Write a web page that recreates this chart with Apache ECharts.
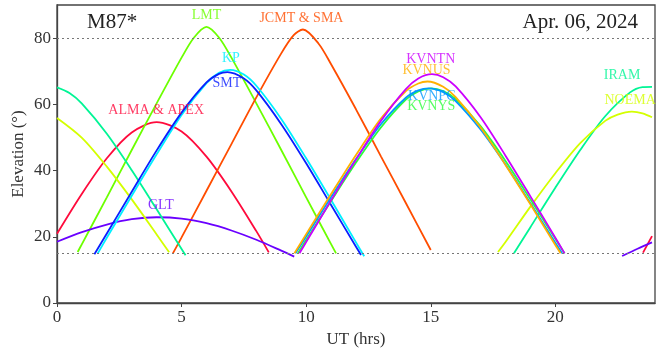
<!DOCTYPE html>
<html><head><meta charset="utf-8">
<script src="https://cdn.jsdelivr.net/npm/echarts@6/dist/echarts.min.js"></script>
<style>html,body{margin:0;padding:0;background:#fff}#c{width:668px;height:349px}</style>
</head><body><div id="c"></div>
<script>
// ---- data (UT hours, elevation degrees) ----
const xTicks = [0, 5, 10, 15, 20];
const yTicks = [0, 20, 40, 60, 80];
const refLines = [15, 80];
const almaA = [[0,20.9],[1,33.0],[2,43.7],[3,51.5],[4,54.6],[5,51.8],[6,44.2],[7,33.7],[8,21.7],[8.5,15.3]];
const almaB = [[23.52,15.2],[23.88,20.2]];
const lmt = [[0.83,15.4],[1,17.8],[2,31.9],[3,46.2],[4,60.3],[5,74.1],[5.5,80.2],[6,83.4],[6.5,80.2],[7,74.1],[8,60.3],[9,46.2],[10,31.9],[11,17.8],[11.2,15.0]];
const jcmt = [[4.65,15.0],[5,19.8],[6,33.9],[7,48.0],[8,62.1],[9,75.4],[9.5,80.9],[9.87,82.6],[10.5,78.3],[11,72.1],[12,58.5],[13,44.3],[14,30.2],[15,16.0]];
const kp = [[1.63,14.9],[2,19.7],[3,32.4],[4,44.9],[5,56.8],[6,66.4],[6.5,69.5],[6.95,70.4],[7.5,69.0],[8,65.6],[9,55.6],[10,43.7],[11,31.1],[12,18.3],[12.33,14.1]];
const smt = [[1.5,14.7],[2,21.0],[3,33.6],[4,46.1],[5,57.5],[6,66.6],[6.5,69.2],[6.84,69.7],[7.5,67.8],[8,64.2],[9,54.0],[10,42.2],[11,29.6],[12,17.0],[12.2,14.5]];
const gltA = [[0,18.5],[1,21.4],[2,23.7],[3,25.3],[4,25.9],[5,25.5],[6,24.1],[7,21.9],[8,19.1],[9,15.8],[9.52,14.0]];
const gltB = [[22.68,14.2],[23.3,16.4],[23.88,18.3]];
const iramA = [[0,65.1],[0.5,63.4],[1,60.2],[2,51.1],[3,40.1],[4,28.3],[5,16.3],[5.16,14.4]];
const iramB = [[18.34,15.0],[19,22.9],[20,34.8],[21,46.2],[22,56.4],[23,63.6],[23.5,65.2],[23.88,65.3]];
const noemaA = [[0,55.9],[1,49.9],[2,41.2],[3,31.3],[4,20.7],[4.5,15.3]];
const noemaB = [[17.7,15.4],[18,18.4],[19,29.1],[20,39.2],[21,48.3],[22,55.0],[22.5,56.9],[23.07,57.8],[23.5,57.3],[23.88,56.1]];
const kvntn = [[9.73,15],[10,18.4],[11,31.0],[12,43.3],[13,55.0],[14,64.6],[14.5,67.8],[15.05,69.1],[15.5,68.2],[16,65.4],[17,56.1],[18,44.5],[19,32.2],[20,19.7],[20.37,15]];
const kvnus = [[9.53,15],[10,20.8],[11,32.9],[12,44.7],[13,55.7],[14,64.0],[14.5,66.3],[14.87,66.9],[15.5,65.3],[16,62.2],[17,53.0],[18,41.7],[19,29.8],[20,17.5],[20.21,15]];
const kvnpc = [[9.57,15],[10,20.1],[11,32.0],[12,43.5],[13,54.0],[14,62.0],[14.5,64.2],[14.92,64.8],[15.5,63.7],[16,61.0],[17,52.4],[18,41.8],[19,30.1],[20,18.2],[20.27,15]];
const kvnys = [[9.67,15],[10,19.0],[11,30.8],[12,42.4],[13,53.0],[14,61.4],[14.5,63.9],[15.02,64.8],[15.5,64.0],[16,61.6],[17,53.4],[18,42.9],[19,31.3],[20,19.4],[20.37,15]];
// label anchor positions in data coordinates
const labels = [
  ['ALMA & APEX', [3.98,58.1]], ['LMT',[6.0,87.0]], ['JCMT & SMA',[9.81,86.0]],
  ['KP',[6.98,73.8]], ['SMT',[6.82,66.4]], ['GLT',[4.17,29.6]],
  ['IRAM',[22.68,68.8]], ['NOEMA',[23.0,61.3]],
  ['KVNTN',[15.0,73.6]], ['KVNUS',[14.83,70.4]], ['KVNPC',[15.04,62.3]], ['KVNYS',[15.02,59.3]]
];
const colors = {
  'ALMA & APEX':'#ff0a3c','LMT':'#6cff00','JCMT & SMA':'#ff4d00','KP':'#00f0ff','SMT':'#0a1eff',
  'GLT':'#6a00ff','IRAM':'#00f595','NOEMA':'#d4ff00','KVNTN':'#cc00ff','KVNUS':'#ffb000',
  'KVNPC':'#0099ff','KVNYS':'#2aff3a'
};
const tracks = [
  ['ALMA & APEX', almaA], ['ALMA & APEX', almaB], ['LMT', lmt], ['JCMT & SMA', jcmt],
  ['GLT', gltA], ['GLT', gltB], ['IRAM', iramA], ['IRAM', iramB], ['NOEMA', noemaA], ['NOEMA', noemaB],
  ['KP', kp], ['SMT', smt], ['KVNYS', kvnys], ['KVNPC', kvnpc], ['KVNUS', kvnus], ['KVNTN', kvntn]
];
const FONT = '"Liberation Serif", "DejaVu Serif", serif';

const series = tracks.map(([name, data]) => ({
  type: 'line', name, data, showSymbol: false, smooth: 0.3,
  lineStyle: { color: colors[name], width: 1.8 }, itemStyle: { color: colors[name] },
  silent: true, z: 3
}));
series.push({
  type: 'line', data: [], silent: true,
  markLine: { silent: true, symbol: 'none', label: { show: false },
    lineStyle: { color: '#777', type: [2, 3], width: 1 },
    data: refLines.map(v => ({ yAxis: v })) }
});
series.push({
  type: 'scatter', symbolSize: 0, silent: true, z: 10,
  data: labels.map(([t, c]) => ({ value: c, name: t,
    label: { show: true, position: 'inside', formatter: t, color: colors[t], fontSize: 14, fontFamily: FONT } }))
});

const chart = echarts.init(document.getElementById('c'), null, { renderer: 'canvas' });
chart.setOption({
  animation: false,
  backgroundColor: '#fff',
  grid: { left: 57, right: 13, top: 5, bottom: 46, containLabel: false, outerBoundsMode: 'none',
    show: true, borderColor: '#444', borderWidth: 1.3, backgroundColor: 'transparent' },
  title: [
    { text: 'M87*', left: 82, top: 7, textStyle: { fontFamily: FONT, fontSize: 21, fontWeight: 'normal', color: '#222' } },
    { text: 'Apr. 06, 2024', right: 25, top: 7, textStyle: { fontFamily: FONT, fontSize: 21, fontWeight: 'normal', color: '#222' } }
  ],
  xAxis: {
    type: 'value', min: 0, max: 24, interval: 5,
    name: 'UT (hrs)', nameLocation: 'middle', nameGap: 28, nameMoveOverlap: false,
    nameTextStyle: { fontFamily: FONT, fontSize: 17, color: '#333' },
    axisLine: { show: true, lineStyle: { color: '#444', width: 1.3 } },
    axisTick: { show: true, length: 4, lineStyle: { color: '#444' } },
    axisLabel: { fontFamily: FONT, fontSize: 17, color: '#333', margin: 6, showMaxLabel: false,
      formatter: v => xTicks.includes(v) ? String(v) : '' },
    splitLine: { show: false }
  },
  yAxis: {
    type: 'value', min: 0, max: 90, interval: 20,
    name: 'Elevation (°)', nameLocation: 'middle', nameGap: 30, nameRotate: 90, nameMoveOverlap: false,
    nameTextStyle: { fontFamily: FONT, fontSize: 17, color: '#333' },
    axisLine: { show: true, lineStyle: { color: '#444', width: 1.3 } },
    axisTick: { show: true, length: 4, lineStyle: { color: '#444' } },
    axisLabel: { fontFamily: FONT, fontSize: 17, color: '#333', margin: 6, showMaxLabel: false,
      formatter: v => yTicks.includes(v) ? String(v) : '' },
    splitLine: { show: false }
  },
  series
});
</script></body></html>
